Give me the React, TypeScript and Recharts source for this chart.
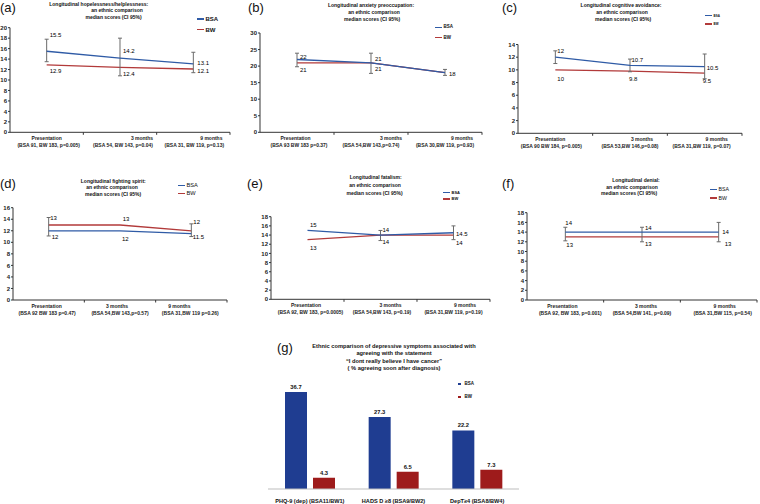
import React from "react";
import { LineChart, Line, XAxis, YAxis, ErrorBar, LabelList, BarChart, Bar } from "recharts";

const FONT = "'Liberation Sans', Arial, sans-serif";
const BSA_LINE = "#2f5ba6";
const BW_LINE = "#b23a3a";
const BSA_BAR = "#1f3d91";
const BW_BAR = "#9e1b1b";

const timePoints = ["Presentation", "3 months", "9 months"];

// (a) hopelessness/helplessness
const subA = ["(BSA 91, BW 183, p=0.005)", "(BSA 54, BW 143, p=0.04)", "(BSA 31, BW 119, p=0.13)"];
const bsaA = [15.5, 14.2, 13.1];
const bwA = [12.9, 12.4, 12.1];
const ciLowA = [13.5, 10.8, 11.4];
const ciHighA = [17.8, 18, 15.3];
const ticksA = [0, 2, 4, 6, 8, 10, 12, 14, 16, 18, 20];

// (b) anxiety preoccupation
const subB = ["(BSA 93 BW 183 p=0.37)", "(BSA 54,BW 143,p=0.74)", "(BSA 30,BW 119, p=0.93)"];
const bsaB = [22, 21, 18];
const bwB = [21, 21, 18];
const ciLowB = [19.8, 17.8, 17.2];
const ciHighB = [23.9, 23.9, 19];
const ticksB = [0, 5, 10, 15, 20, 25, 30];

// (c) cognitive avoidance
const subC = ["(BSA 90 BW 184, p=0.005)", "(BSA 53,BW 146,p=0.08)", "(BSA 31,BW 119, p=0.07)"];
const bsaC = [12, 10.7, 10.5];
const bwC = [10, 9.8, 9.5];
const ciLowC = [11, 9.7, 8.6];
const ciHighC = [13, 11.7, 12.5];
const ticksC = [0, 2, 4, 6, 8, 10, 12, 14];

// (d) fighting spirit
const subD = ["(BSA 92 BW 183 p=0.47)", "(BSA 54,BW 143,p=0.57)", "(BSA 31,BW 119 p=0.26)"];
const bsaD = [12, 12, 11.5];
const bwD = [13, 13, 12];
const ciLowD = [11.1, null, 11];
const ciHighD = [14.3, null, 13.2];
const ticksD = [0, 2, 4, 6, 8, 10, 12, 14, 16];

// (e) fatalism
const subE = ["(BSA 92, BW 183, p=0.0005)", "(BSA 54,BW 143, p=0.19)", "(BSA 31,BW 119, p=0.19)"];
const bsaE = [15, 14, 14.5];
const bwE = [13, 14, 14];
const ciLowE = [null, 12.8, 13];
const ciHighE = [null, 15, 16];
const ticksE = [0, 2, 4, 6, 8, 10, 12, 14, 16, 18];

// (f) denial
const subF = ["(BSA 92, BW 183, p=0.001)", "(BSA 54,BW 141, p=0.09)", "(BSA 31,BW 115, p=0.54)"];
const bsaF = [14, 14, 14];
const bwF = [13, 13, 13];
const ciLowF = [12.2, 12, 12];
const ciHighF = [15, 15, 16];
const ticksF = [0, 2, 4, 6, 8, 10, 12, 14, 16, 18];

// (g) depressive symptoms
const gCategories = ["PHQ-9 (dep) (BSA11/BW1)", "HADS D  \u22658  (BSA9/BW2)", "DepT\u22654 (BSA8/BW4)"];
const gBsa = [36.7, 27.3, 22.2];
const gBw = [4.3, 6.5, 7.3];

const subtitle = ["an ethnic comparison", "median scores (CI 95%)"];

type Off = [number, number] | null;
type Panel = {
  tag: string; tagX: number; tagY: number;
  title: string[]; titleX: number[]; titleY: number[];
  sub: string[]; bsa: number[]; bw: number[];
  ciLow: (number | null)[]; ciHigh: (number | null)[]; ticks: number[];
  left: number; top: number; axisX: number; right: number; plotTop: number; plotBottom: number;
  l1dx: number[]; l2dx: number[];
  bsaLab: Off[]; bwLab: Off[];
  legX: number; legY: number[]; legFont: number; legWeight: string;
};

const panels: Panel[] = [
  {
    tag: "(a)", tagX: 0, tagY: 7.5,
    title: ["Longitudinal hopelessness/helplessness:", ...subtitle], titleX: [98.7, 117, 113.5], titleY: [3.8, 10.3, 17],
    sub: subA, bsa: bsaA, bw: bwA, ciLow: ciLowA, ciHigh: ciHighA, ticks: ticksA,
    left: 0, top: 0, axisX: 10, right: 230, plotTop: 27.7, plotBottom: 132.3,
    l1dx: [0, 22, 18], l2dx: [2, 3, 1],
    bsaLab: [[3, -16], [3, -7], [4, -1]], bwLab: [[3, 6], [3, 7], [4, 2]],
    legX: 197, legY: [19, 29.7], legFont: 6, legWeight: "bold",
  },
  {
    tag: "(b)", tagX: 248, tagY: 7.5,
    title: ["Longitudinal anxiety preoccupation:", ...subtitle], titleX: [371, 374, 372], titleY: [5, 12, 19],
    sub: subB, bsa: bsaB, bw: bwB, ciLow: ciLowB, ciHigh: ciHighB, ticks: ticksB,
    left: 240, top: 0, axisX: 260, right: 482, plotTop: 33, plotBottom: 132.3,
    l1dx: [-1.5, 20, 17], l2dx: [2, 0, 0],
    bsaLab: [[3, -2.5], [4, -4], [4, 1]], bwLab: [[3, 7], [4, 6], null],
    legX: 435, legY: [27.3, 37.7], legFont: 4.5, legWeight: "bold",
  },
  {
    tag: "(c)", tagX: 502, tagY: 7.5,
    title: ["Longitudinal cognitive avoidance:", ...subtitle], titleX: [621, 622, 623], titleY: [5, 12, 19],
    sub: subC, bsa: bsaC, bw: bwC, ciLow: ciLowC, ciHigh: ciHighC, ticks: ticksC,
    left: 495, top: 0, axisX: 518, right: 742, plotTop: 44.5, plotBottom: 133.3,
    l1dx: [-5, 12, 12], l2dx: [-4, 0, -3],
    bsaLab: [[2, -6], [1.5, -5], [2, 1]], bwLab: [[2, 9], [-1, 8], [-2, 8]],
    legX: 705, legY: [15.7, 24], legFont: 3, legWeight: "bold",
  },
  {
    tag: "(d)", tagX: 0, tagY: 183.5,
    title: ["Longitudinal fighting spirit:", ...subtitle], titleX: [113.3, 112, 113], titleY: [180.7, 187.3, 194],
    sub: subD, bsa: bsaD, bw: bwD, ciLow: ciLowD, ciHigh: ciHighD, ticks: ticksD,
    left: 0, top: 170, axisX: 13, right: 227, plotTop: 207.7, plotBottom: 300,
    l1dx: [-2, -3, -12], l2dx: [-1.5, 0, -1],
    bsaLab: [[3, 6], [2, 8], [1.5, 3]], bwLab: [[1.5, -7], [2.7, -6], [2, -9]],
    legX: 178, legY: [185.3, 193.3], legFont: 5.7, legWeight: "normal",
  },
  {
    tag: "(e)", tagX: 247, tagY: 183.5,
    title: ["Longitudinal fatalism:", ...subtitle], titleX: [375.7, 375, 374.5], titleY: [176.7, 185, 193.3],
    sub: subE, bsa: bsaE, bw: bwE, ciLow: ciLowE, ciHigh: ciHighE, ticks: ticksE,
    left: 240, top: 170, axisX: 271, right: 490, plotTop: 216.7, plotBottom: 299.3,
    l1dx: [-1.5, 10, 11.5], l2dx: [3, 1.5, 0],
    bsaLab: [[2.5, -5], [2, -5], [2.5, 1]], bwLab: [[2.5, 8], [2, 7], [2.5, 8]],
    legX: 443, legY: [192.7, 199], legFont: 4, legWeight: "bold",
  },
  {
    tag: "(f)", tagX: 502, tagY: 183.5,
    title: ["Longitudinal denial:", ...subtitle], titleX: [636, 632, 629], titleY: [180, 186.7, 193.3],
    sub: subF, bsa: bsaF, bw: bwF, ciLow: ciLowF, ciHigh: ciHighF, ticks: ticksF,
    left: 495, top: 170, axisX: 527, right: 757, plotTop: 212.7, plotBottom: 300,
    l1dx: [-3, 4, 6], l2dx: [5, 0, 4],
    bsaLab: [[0, -9], [3, -4], [3.6, 0]], bwLab: [[1, 8], [3, 7], [6, 7]],
    legX: 710, legY: [189.3, 198], legFont: 5.2, legWeight: "normal",
  },
];

const pointLabel = (offs: Off[]) => (props: any) => {
  const o = offs[props.index];
  if (!o) return null;
  const x = props.x ?? props.viewBox?.x;
  const y = props.y ?? props.viewBox?.y;
  if (x == null || y == null) return null;
  return (
    <text x={x + o[0]} y={y + o[1]} fontSize={6} fill="#000" fontFamily={FONT} dominantBaseline="central">
      {props.value}
    </text>
  );
};

const LinePanel = ({ p }: { p: Panel }) => {
  const data = timePoints.map((t, i) => {
    const lo = p.ciLow[i];
    const hi = p.ciHigh[i];
    return {
      t,
      bsa: p.bsa[i],
      bw: p.bw[i],
      err: lo == null || hi == null ? null : [p.bsa[i] - lo, hi - p.bsa[i]],
    };
  });
  const width = p.right + 3 - p.left;
  const height = p.plotBottom - p.top + 24;
  const band = (p.right - p.axisX) / 3;
  const yMax = p.ticks[p.ticks.length - 1];

  const xTick = (props: any) => {
    const { x, y, index } = props;
    return (
      <g>
        <line x1={x + band / 2} x2={x + band / 2} y1={y} y2={y + 2.5} stroke="#333" />
        <text x={x + p.l1dx[index]} y={y + 6} textAnchor="middle" dominantBaseline="central" fontSize={5} fontWeight="bold" fill="#222" fontFamily={FONT}>
          {timePoints[index]}
        </text>
        <text x={x + p.l2dx[index]} y={y + 12.8} textAnchor="middle" dominantBaseline="central" fontSize={5} fontWeight="bold" fill="#222" fontFamily={FONT}>
          {p.sub[index]}
        </text>
      </g>
    );
  };

  return (
    <>
      <div style={{ position: "absolute", left: p.tagX, top: p.tagY - 8, fontSize: 13, lineHeight: "16px", color: "#111" }}>{p.tag}</div>
      {p.title.map((line, i) => (
        <div
          key={i}
          style={{
            position: "absolute", left: p.titleX[i], top: p.titleY[i], transform: "translate(-50%, -50%)",
            fontSize: 5, fontWeight: "bold", whiteSpace: "nowrap", lineHeight: "6px", color: "#111",
          }}
        >
          {line}
        </div>
      ))}
      {[{ n: "BSA", c: BSA_LINE }, { n: "BW", c: BW_LINE }].map((s, i) => (
        <div key={s.n} style={{ position: "absolute", left: p.legX, top: p.legY[i] - 4, height: 8, display: "flex", alignItems: "center", whiteSpace: "nowrap" }}>
          <span style={{ display: "inline-block", width: 7, height: 1.5, background: s.c, marginRight: 1.5 }} />
          <span style={{ fontSize: p.legFont, fontWeight: p.legWeight, color: "#111", lineHeight: "8px" }}>{s.n}</span>
        </div>
      ))}
      <div style={{ position: "absolute", left: p.left, top: p.top }}>
        <LineChart width={width} height={height} data={data} margin={{ top: p.plotTop - p.top, right: 3, left: 0, bottom: 0 }}>
          <XAxis
            dataKey="t"
            interval={0}
            height={24}
            padding={{ left: band / 2, right: band / 2 }}
            tickSize={0}
            tickMargin={0}
            tickLine={false}
            axisLine={{ stroke: "#333" }}
            tick={xTick}
          />
          <YAxis
            width={p.axisX - p.left}
            domain={[0, yMax]}
            ticks={p.ticks}
            interval={0}
            allowDataOverflow
            tickSize={2}
            tickMargin={1}
            axisLine={{ stroke: "#333" }}
            tickLine={{ stroke: "#333" }}
            tick={{ fontSize: 6, fontWeight: "bold", fill: "#222", fontFamily: FONT }}
          />
          <Line dataKey="bw" name="BW" stroke={BW_LINE} strokeWidth={1.3} dot={false} isAnimationActive={false}>
            <LabelList dataKey="bw" content={pointLabel(p.bwLab)} />
          </Line>
          <Line dataKey="bsa" name="BSA" stroke={BSA_LINE} strokeWidth={1.3} dot={false} isAnimationActive={false}>
            <ErrorBar dataKey="err" direction="y" width={2} strokeWidth={1} stroke="#6a6a6a" />
            <LabelList dataKey="bsa" content={pointLabel(p.bsaLab)} />
          </Line>
        </LineChart>
      </div>
    </>
  );
};

const gTitle = [
  "Ethnic comparison of depressive symptoms associated with",
  "agreeing with the statement",
  "\u201cI dont really believe I have cancer\u201d",
  "( % agreeing soon after diagnosis)",
];
const gTitleY = [345.7, 352.5, 361, 367.7];

const BarPanel = () => {
  const data = gCategories.map((c, i) => ({ c, bsa: gBsa[i], bw: gBw[i] }));
  const gTick = (props: any) => {
    const { x, y, index } = props;
    return (
      <text x={x} y={y + 12.3} textAnchor="middle" dominantBaseline="central" fontSize={5.6} fontWeight="bold" fill="#111" fontFamily={FONT}>
        {gCategories[index]}
      </text>
    );
  };
  return (
    <>
      <div style={{ position: "absolute", left: 277, top: 340, fontSize: 13, lineHeight: "16px", color: "#111" }}>(g)</div>
      {gTitle.map((line, i) => (
        <div
          key={i}
          style={{
            position: "absolute", left: 394, top: gTitleY[i], transform: "translate(-50%, -50%)",
            fontSize: 5.7, fontWeight: "bold", whiteSpace: "nowrap", lineHeight: "7px", color: "#111",
          }}
        >
          {line}
        </div>
      ))}
      {[{ n: "BSA", c: BSA_BAR, y: 384 }, { n: "BW", c: BW_BAR, y: 397 }].map((s) => (
        <div key={s.n} style={{ position: "absolute", left: 458, top: s.y - 4, height: 8, display: "flex", alignItems: "center", whiteSpace: "nowrap" }}>
          <span style={{ display: "inline-block", width: 2.5, height: 2.5, background: s.c, marginRight: 4 }} />
          <span style={{ fontSize: 4.5, fontWeight: "bold", color: "#111", lineHeight: "8px" }}>{s.n}</span>
        </div>
      ))}
      <div style={{ position: "absolute", left: 240, top: 330 }}>
        <BarChart width={300} height={180} data={data} margin={{ top: 53.4, right: 21, left: 28, bottom: 0 }} barSize={22} barGap={6}>
          <XAxis dataKey="c" height={21} interval={0} tickSize={0} tickMargin={0} tickLine={false} axisLine={{ stroke: "#bdbdbd" }} tick={gTick} />
          <YAxis hide domain={[0, 40]} allowDataOverflow />
          <Bar dataKey="bsa" name="BSA" fill={BSA_BAR} isAnimationActive={false}>
            <LabelList dataKey="bsa" position="top" offset={3} fontSize={5.8} fontWeight="bold" fill="#111" fontFamily={FONT} />
          </Bar>
          <Bar dataKey="bw" name="BW" fill={BW_BAR} isAnimationActive={false}>
            <LabelList dataKey="bw" position="top" offset={3} fontSize={5.8} fontWeight="bold" fill="#111" fontFamily={FONT} />
          </Bar>
        </BarChart>
      </div>
    </>
  );
};

export default function App() {
  return (
    <div style={{ position: "absolute", left: 0, top: 0, width: 760, height: 504, overflow: "hidden", background: "#fff", fontFamily: FONT }}>
      {panels.map((p) => (
        <LinePanel key={p.tag} p={p} />
      ))}
      <BarPanel />
    </div>
  );
}
